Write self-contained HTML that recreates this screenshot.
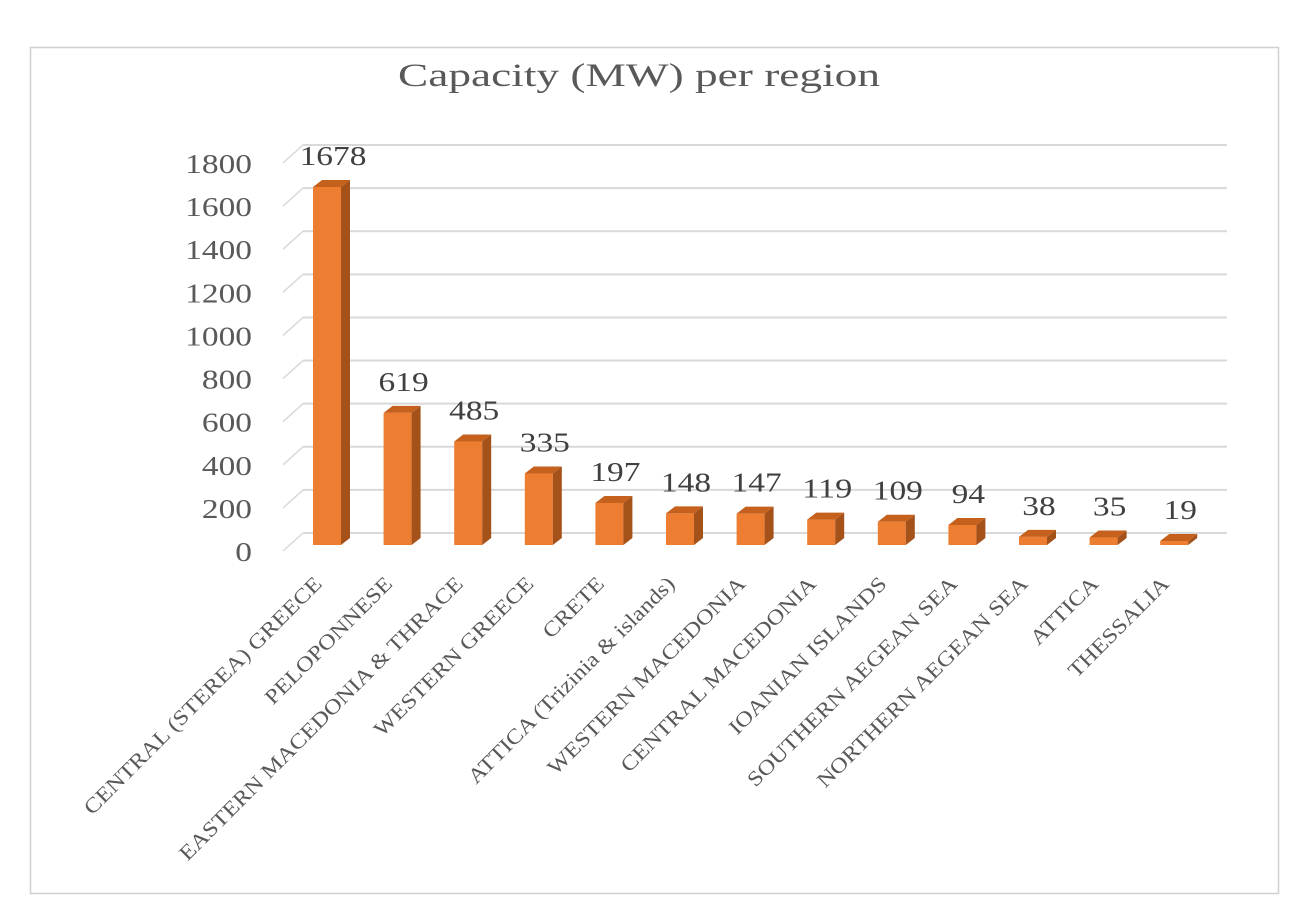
<!DOCTYPE html>
<html><head><meta charset="utf-8"><style>
html,body{margin:0;padding:0;background:#fff;}
svg{display:block;font-family:"Palatino Linotype","Book Antiqua","Liberation Serif","DejaVu Serif",serif;}
</style></head><body>
<svg id="chart" width="1315" height="924" viewBox="0 0 1315 924" xmlns="http://www.w3.org/2000/svg">
<rect x="30.5" y="47.5" width="1248" height="846" fill="#fff" stroke="#d0d0d0" stroke-width="1.5"/>
<text x="639" y="86" font-size="33" fill="#595959" text-anchor="middle" textLength="482" lengthAdjust="spacingAndGlyphs">Capacity (MW) per region</text>
<g id="grid"></g><g id="bars"></g><g id="labels"></g>
</svg>
<script>
const categories=["CENTRAL (STEREA) GREECE","PELOPONNESE","EASTERN MACEDONIA & THRACE","WESTERN GREECE","CRETE","ATTICA (Trizinia & islands)","WESTERN MACEDONIA","CENTRAL MACEDONIA","IOANIAN ISLANDS","SOUTHERN AEGEAN SEA","NORTHERN AEGEAN SEA","ATTICA","THESSALIA"];
const values=[1678,619,485,335,197,148,147,119,109,94,38,35,19];
const ticks=[0,200,400,600,800,1000,1200,1400,1600,1800];
const NS="http://www.w3.org/2000/svg";
function mk(t,a,p){const e=document.createElementNS(NS,t);for(const k in a)e.setAttribute(k,a[k]);p.appendChild(e);return e;}
const yBack=v=>533-v*388/1800;
const yFront=v=>545-v*358/1678;
const xBar=i=>313+i*70.6;
const grid=document.getElementById('grid'),bars=document.getElementById('bars'),labels=document.getElementById('labels');
ticks.forEach(t=>{
 const y=yBack(t);
 const l=mk('line',{x1:303,y1:y,x2:1227,y2:y,stroke:'#d9d9d9','stroke-width':2},grid);
 
 
 const d=mk('line',{x1:283,y1:y+18,x2:303,y2:y,stroke:'#d9d9d9','stroke-width':1.5},grid);
 
 
 const tx=mk('text',{x:252,y:y+28,'font-size':27,fill:'#595959','text-anchor':'end',textLength:String(t).length*16.7,lengthAdjust:'spacingAndGlyphs'},grid);
 tx.textContent=t;
 
 
});
const w=28,dx=9,dy=7;
values.forEach((v,i)=>{
 const x=xBar(i),yt=yFront(v),yb=545;
 const g=mk('g',{},bars);
 
 
 mk('rect',{x:x,y:yt,width:w,height:yb-yt,fill:'#ed7d31'},g);
 mk('polygon',{points:`${x+w},${yt} ${x+w+dx},${yt-dy} ${x+w+dx},${yb-dy} ${x+w},${yb}`,fill:'#a5511a'},g);
 mk('polygon',{points:`${x},${yt} ${x+dx},${yt-dy} ${x+w+dx},${yt-dy} ${x+w},${yt}`,fill:'#c5611c'},g);
 const vl=mk('text',{x:x+w/2+6,y:yt-22,'font-size':27,fill:'#404040','text-anchor':'middle',textLength:String(v).length*16.7,lengthAdjust:'spacingAndGlyphs'},labels);
 vl.textContent=v;
 
 
 const cx=x+w/2-4,cy=585;
 const cl=mk('text',{x:cx,y:cy,'font-size':21,fill:'#595959','text-anchor':'end',transform:`rotate(-45 ${cx} ${cy})`},labels);
 cl.textContent=categories[i];
 
 
 const L=cl.getComputedTextLength();
 cl.setAttribute('textLength',L*1.16);
 cl.setAttribute('lengthAdjust','spacingAndGlyphs');
});
</script>
</body></html>
